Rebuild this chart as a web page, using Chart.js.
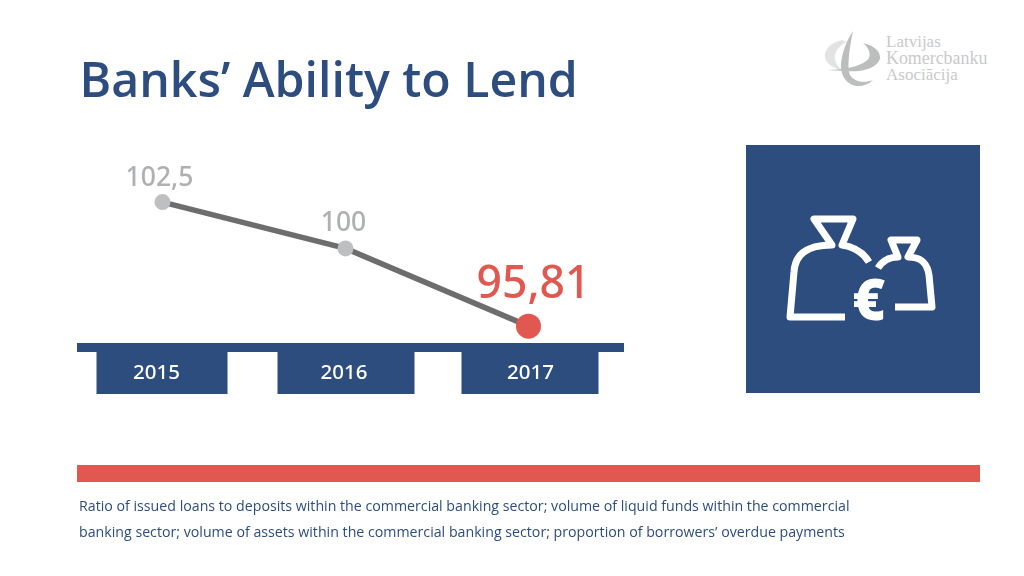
<!DOCTYPE html>
<html><head><meta charset="utf-8">
<script src="https://cdn.jsdelivr.net/npm/chart.js@4"></script>
<style>
html,body{margin:0;padding:0;background:#fff;width:1024px;height:576px;overflow:hidden}
#wrap{position:relative;width:1024px;height:576px}
canvas#c{position:absolute;left:0;top:0}
.t{position:absolute;white-space:nowrap}
#title{left:79.5px;top:45px;font:600 48.2px/66px "Open Sans",sans-serif;color:#2d4d7f}
#cap1,#cap2{left:79px;font:400 14.2px/20px "Open Sans",sans-serif;color:#2d4d7f}
#cap1{top:496px}#cap2{top:522px}
.lg{left:886px;font:400 17px/16px "Liberation Serif",serif;color:#c8cac9}
#bar{position:absolute;left:77px;top:465px;width:903px;height:17px;background:#e0584f}
#sq{position:absolute;left:746px;top:145px;width:234px;height:248px;background:#2d4d7f}
svg{position:absolute}
</style></head><body><div id="wrap">
<div class="t" id="title">Banks’ Ability to Lend</div>
<svg style="left:820px;top:26px" width="66" height="64" viewBox="0 0 66 64">
<path d="M33 5 C27 14 22 26 21 38 C20 50 28 60 38 60 C44 60 49 58 53 54 C46 57 35 57 30 49 C27 43 29 24 33 5Z" fill="#bcbebd"/>
<path d="M22 14 C9 17 2 26 6 34 C8 39 15 43 22 44 C15 38 13 32 16 26 C18 22 22 18 27 16Z" fill="#e2e3e2"/>
<path d="M43 17 C52 19 60 24 60 31 C60 40 45 47 26 45 L6 44 C24 44 44 40 49 32 C51 27 48 21 43 17Z" fill="#bcbebd"/>
</svg>
<div class="t lg" style="top:34px">Latvijas</div>
<div class="t lg" style="top:50px;font-size:17.9px">Komercbanku</div>
<div class="t lg" style="top:67px">Asociācija</div>
<div id="sq"></div>
<svg style="left:770px;top:200px" width="190" height="140" viewBox="0 0 190 140" fill="none" stroke="#fff" stroke-width="7" stroke-linejoin="round" stroke-linecap="butt">
<path d="M75 117 H20 L24 72 C25 55 36 45 62 45 L44 19 H83 L72 45 C85 47 93 52 99 62"/>
<path d="M108 68 C113 60 120 57 128 57 L121 40 H147 L138 57 C150 57 157 62 159 75 L162 107 H125"/>
<text x="99" y="120" stroke="none" fill="#fff" text-anchor="middle" style="font:800 56px 'Open Sans',sans-serif">€</text>
</svg>
<canvas id="c" width="1024" height="576" style="width:1024px;height:576px"></canvas>
<div id="bar"></div>
<div class="t" id="cap1">Ratio of issued loans to deposits within the commercial banking sector; volume of liquid funds within the commercial</div>
<div class="t" id="cap2">banking sector; volume of assets within the commercial banking sector; proportion of borrowers’ overdue payments</div>
</div>
<script>
const years = ['2015','2016','2017'];
const ability = [102.5, 100, 95.81];
const pointColors = ['#bdbfc1','#bdbfc1','#e0584f'];
const pointSizes = [8,8,12.5];
const labelStyles = [
 {font:'500 26.5px "Noto Sans"',color:'#aeb0b2',dx:-3,dy:-24},
 {font:'500 26.5px "Noto Sans"',color:'#aeb0b2',dx:-2,dy:-25},
 {font:'500 44.5px "Noto Sans"',color:'#e0584f',dx:5,dy:-41}
];
const boxHalf = [[-66,65],[-68,69],[-67,70]];
const tickShift = [-6,-1.5,2];
const navy = '#2d4d7f';

const decor = {
 id:'decor',
 beforeDraw(chart){
  const x = chart.scales.x, a = chart.chartArea, c = chart.ctx;
  x.getLabelItems().forEach((it,i)=>{ it.options.translation[0] = x.getPixelForTick(i)+tickShift[i]; });
  c.save(); c.fillStyle = navy;
  c.fillRect(77,a.bottom,547,9);
  years.forEach((_,i)=>{
   const px = x.getPixelForValue(i);
   c.fillRect(px+boxHalf[i][0],a.bottom,boxHalf[i][1]-boxHalf[i][0],51);
  });
  c.restore();
 },
 afterDatasetsDraw(chart){
  const m = chart.getDatasetMeta(0), c = chart.ctx;
  c.save(); c.textAlign='center'; c.textBaseline='middle';
  m.data.forEach((p,i)=>{
   const s = labelStyles[i];
   c.font = s.font; c.fillStyle = s.color;
   c.fillText(String(ability[i]).replace('.',','), p.x+s.dx, p.y+s.dy);
  });
  c.restore();
 }
};
new Chart(document.getElementById('c'),{
 type:'line',
 plugins:[decor],
 data:{labels:years,datasets:[{data:ability,borderColor:'#6d6d6d',borderWidth:5.5,tension:0,
  pointBackgroundColor:pointColors,pointBorderWidth:0,pointRadius:pointSizes,pointHoverRadius:pointSizes,clip:false}]},
 options:{
  responsive:false,animation:false,devicePixelRatio:1,
  layout:{padding:{left:71,right:404,top:155,bottom:182}},
  plugins:{legend:{display:false},tooltip:{enabled:false},title:{display:false}},
  scales:{
   x:{type:'category',offset:true,grid:{display:false},border:{display:false},
      afterFit(s){s.height=51;},
      ticks:{color:'#fff',maxRotation:0,padding:10,font:{family:'"Noto Sans"',size:20.5,weight:'500'}}},
   y:{display:false,min:94.9,max:105.04}
  }
 }
});
</script></body></html>
